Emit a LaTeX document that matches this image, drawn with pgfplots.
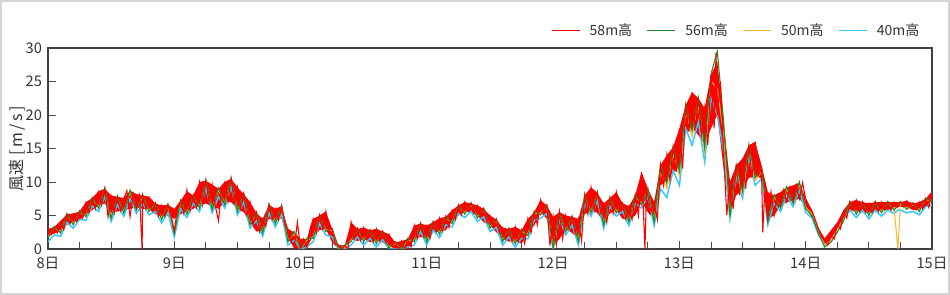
\documentclass[border=0pt]{standalone}
\usepackage{fontspec}
\usepackage{pgfplots}
\pgfplotsset{compat=1.18}
\usepgfplotslibrary{fillbetween}
\usepackage{pgfplotstable}
\newfontfamily\cjk{Noto Sans CJK JP}
\definecolor{s58}{RGB}{255,0,0}
\definecolor{s56}{RGB}{30,140,30}
\definecolor{s50}{RGB}{255,185,50}
\definecolor{s40}{RGB}{50,200,255}
\pgfplotstableread{
x lo hi
8.00 2.0 3.0
8.05 2.3 3.3
8.10 2.8 4.2
8.15 3.6 5.2
8.20 4.0 5.3
8.25 4.3 5.6
8.30 5.2 7.0
8.35 5.8 7.6
8.40 6.5 8.6
8.45 6.8 9.0
8.50 5.4 8.0
8.55 5.6 7.8
8.60 5.8 7.6
8.65 6.0 8.7
8.70 6.2 8.2
8.75 6.0 8.0
8.80 6.0 7.8
8.85 5.2 6.8
8.90 4.8 6.5
8.95 5.0 6.6
9.00 4.5 6.0
9.05 5.2 7.2
9.10 5.6 8.6
9.15 6.0 8.0
9.20 6.5 10.0
9.25 6.8 10.2
9.30 6.3 9.6
9.35 6.0 9.0
9.40 7.0 10.0
9.45 7.0 10.5
9.50 6.0 9.2
9.55 5.5 8.2
9.60 4.0 7.0
9.65 2.6 5.4
9.70 2.8 4.5
9.75 4.5 6.6
9.80 4.2 6.0
9.85 4.6 6.4
9.90 1.5 3.0
9.95 0.2 2.5
10.00 0.0 1.5
10.05 0.2 1.5
10.10 2.0 4.5
10.15 2.8 5.0
10.20 3.0 5.6
10.25 1.0 3.0
10.30 0.0 0.6
10.35 0.0 0.5
10.40 1.5 4.0
10.45 1.2 3.0
10.50 1.5 3.2
10.55 1.0 2.8
10.60 1.2 3.0
10.65 1.0 2.6
10.70 0.5 2.2
10.75 0.0 1.0
10.80 0.0 1.2
10.85 0.0 1.5
10.90 1.5 3.5
10.95 1.8 3.8
11.00 1.5 3.5
11.05 2.5 4.0
11.10 2.6 4.6
11.15 2.8 4.8
11.20 4.2 5.8
11.25 5.0 6.5
11.30 5.6 7.0
11.35 5.4 6.8
11.40 5.0 6.5
11.45 4.0 6.0
11.50 3.5 5.0
11.55 2.5 4.4
11.60 1.5 3.2
11.65 1.1 3.0
11.70 1.2 3.3
11.75 0.8 2.8
11.80 2.4 4.5
11.85 3.5 5.5
11.90 5.5 7.3
11.95 4.5 6.5
12.00 0.5 4.8
12.05 1.5 5.5
12.10 3.0 5.0
12.15 2.4 4.8
12.20 1.5 4.5
12.25 5.2 8.0
12.30 5.8 9.2
12.35 5.4 8.4
12.40 4.0 6.8
12.45 5.3 7.6
12.50 5.8 8.5
12.55 4.5 6.8
12.60 4.4 6.4
12.65 5.0 8.0
12.70 7.0 11.5
12.75 5.5 9.0
12.80 4.4 7.0
12.85 9.5 12.5
12.90 10.2 14.0
12.95 11.5 15.2
13.00 12.0 18.0
13.05 17.5 21.5
13.10 18.0 23.4
13.15 17.0 22.5
13.20 15.5 21.0
13.25 18.0 26.0
13.30 20.0 28.0
13.35 12.0 19.0
13.40 5.5 10.0
13.45 8.0 12.5
13.50 9.0 13.5
13.55 10.6 15.5
13.60 11.0 16.0
13.65 10.5 12.5
13.70 4.5 8.5
13.75 5.0 8.0
13.80 6.5 8.5
13.85 7.0 9.2
13.90 7.2 9.5
13.95 7.5 9.9
14.00 6.4 7.6
14.05 4.6 5.8
14.10 2.0 3.2
14.15 0.6 1.6
14.20 1.5 2.8
14.25 2.8 4.0
14.30 4.5 5.8
14.35 5.8 7.0
14.40 5.6 7.3
14.45 5.5 7.0
14.50 5.4 6.8
14.55 5.6 7.0
14.60 5.8 7.0
14.65 5.8 7.0
14.70 6.2 7.0
14.75 6.3 7.0
14.80 6.3 7.2
14.85 5.8 6.8
14.90 6.0 7.0
14.95 6.2 7.5
15.00 7.5 8.6
}\env
\pgfplotstableread{
x g o b
8.00 1.6 1.8 1.1
8.05 3.4 3.1 2.1
8.10 2.4 2.6 1.9
8.15 5.3 5.0 4.0
8.20 3.6 3.8 3.1
8.25 5.7 5.4 4.4
8.30 4.8 5.0 4.3
8.35 7.7 7.4 6.4
8.40 6.1 6.3 5.6
8.45 9.1 8.8 7.8
8.50 4.6 4.8 4.1
8.55 7.9 7.6 6.6
8.60 5.4 5.6 4.9
8.65 8.8 8.5 7.5
8.70 5.8 6.0 5.3
8.75 8.1 7.8 6.8
8.80 5.6 5.8 5.1
8.85 6.9 6.6 5.6
8.90 4.4 4.6 3.9
8.95 6.7 6.4 5.4
9.00 2.3 2.5 1.8
9.05 7.3 7.0 6.0
9.10 5.2 5.4 4.7
9.15 8.1 7.8 6.8
9.20 6.1 6.3 5.6
9.25 10.3 10.0 9.0
9.30 5.9 6.1 5.4
9.35 9.1 8.8 7.8
9.40 6.6 6.8 6.1
9.45 10.6 10.3 9.3
9.50 5.6 5.8 5.1
9.55 8.3 8.0 7.0
9.60 3.6 3.8 3.1
9.65 5.5 5.2 4.2
9.70 2.4 2.6 1.9
9.75 6.7 6.4 5.4
9.80 3.8 4.0 3.3
9.85 6.5 6.2 5.2
9.90 1.1 1.3 0.6
9.95 2.6 2.3 1.3
10.00 0.0 0.0 0.0
10.05 1.6 1.3 0.3
10.10 1.6 1.8 1.1
10.15 5.1 4.8 3.8
10.20 2.6 2.8 2.1
10.25 3.1 2.8 1.8
10.30 0.0 0.0 0.0
10.35 0.6 0.3 0.0
10.40 1.1 1.3 0.6
10.45 3.1 2.8 1.8
10.50 1.1 1.3 0.6
10.55 2.9 2.6 1.6
10.60 0.8 1.0 0.3
10.65 2.7 2.4 1.4
10.70 0.1 0.3 0.0
10.75 1.1 0.8 0.0
10.80 0.0 0.0 0.0
10.85 1.6 1.3 0.3
10.90 1.1 1.3 0.6
10.95 3.9 3.6 2.6
11.00 1.1 1.3 0.6
11.05 4.1 3.8 2.8
11.10 2.2 2.4 1.7
11.15 4.9 4.6 3.6
11.20 3.8 4.0 3.3
11.25 6.6 6.3 5.3
11.30 5.2 5.4 4.7
11.35 6.9 6.6 5.6
11.40 4.6 4.8 4.1
11.45 6.1 5.8 4.8
11.50 3.1 3.3 2.6
11.55 4.5 4.2 3.2
11.60 1.1 1.3 0.6
11.65 3.1 2.8 1.8
11.70 0.8 1.0 0.3
11.75 2.9 2.6 1.6
11.80 2.0 2.2 1.5
11.85 5.6 5.3 4.3
11.90 5.1 5.3 4.6
11.95 6.6 6.3 5.3
12.00 0.1 0.3 0.0
12.05 5.6 5.3 4.3
12.10 2.6 2.8 2.1
12.15 4.9 4.6 3.6
12.20 1.1 1.3 0.6
12.25 8.1 7.8 6.8
12.30 5.4 5.6 4.9
12.35 8.5 8.2 7.2
12.40 3.6 3.8 3.1
12.45 7.7 7.4 6.4
12.50 5.4 5.6 4.9
12.55 6.9 6.6 5.6
12.60 4.0 4.2 3.5
12.65 8.1 7.8 6.8
12.70 6.6 6.8 6.1
12.75 9.1 8.8 7.8
12.80 4.0 4.2 3.5
12.85 12.6 11.5 9.0
12.90 9.8 9.0 7.7
12.95 15.3 14.2 11.7
13.00 11.6 10.8 9.5
13.05 21.6 20.5 18.0
13.10 17.6 16.8 15.5
13.15 22.6 21.5 19.0
13.20 15.1 14.3 13.0
13.25 26.1 25.0 22.5
13.30 29.5 24.0 20.0
13.35 19.0 17.0 14.5
13.40 4.8 5.0 4.5
13.45 12.6 12.0 10.8
13.50 8.6 8.2 7.6
13.55 15.6 15.0 13.8
13.60 10.6 10.2 9.5
13.65 12.1 11.5 10.5
13.70 4.1 4.3 3.6
13.75 8.1 7.8 6.8
13.80 6.1 6.3 5.6
13.85 9.3 9.0 8.0
13.90 6.8 7.0 6.3
13.95 10.0 9.7 8.7
14.00 6.0 6.2 5.5
14.05 5.0 5.2 4.6
14.10 2.4 2.6 2.2
14.15 0.3 0.6 0.6
14.20 1.0 1.3 1.3
14.25 2.5 2.8 2.9
14.30 4.2 4.4 4.5
14.35 7.1 6.8 5.8
14.40 5.2 5.4 4.7
14.45 7.1 6.8 5.8
14.50 5.0 5.2 4.5
14.55 7.1 6.8 5.8
14.60 5.4 5.6 4.9
14.65 7.1 6.8 5.8
14.70 5.8 6.0 5.3
14.73 6.5 0.0 5.8
14.75 7.1 6.8 5.8
14.80 5.9 6.1 5.4
14.85 6.9 6.6 5.6
14.90 5.6 5.8 5.1
14.95 7.6 7.3 6.3
15.00 7.1 7.3 6.6
}\others
\begin{document}
\begin{tikzpicture}
\begin{axis}[
  at={(0pt,0pt)}, anchor=south west,
  scale only axis, width=663pt, height=150.75pt,
  xmin=8, xmax=15, ymin=0, ymax=30,
  xtick={8,9,10,11,12,13,14,15},
  xticklabels={8日,9日,10日,11日,12日,13日,14日,15日},
  minor x tick num=3,
  ytick={0,5,10,15,20,25,30},
  xtick pos=left, ytick pos=left,
  tick align=inside,
  major tick length=6pt, minor tick length=5pt,
  tick style={black!70, line width=0.6pt},
  axis line style={black!75, line width=0.9pt},
  /pgf/number format/assume math mode=true,
  ticklabel style={font=\cjk\fontsize{11}{12}\selectfont, text=black!80},
  xticklabel style={yshift=-2.5pt},
  yticklabel style={xshift=-1pt},
  ylabel={風速 [\,m\,/\,s\,]},
  ylabel style={at={(axis description cs:-0.035,0.5)}, anchor=center, font=\cjk\fontsize{12}{14}\selectfont, text=black!80},
  legend columns=4,
  legend image code/.code={\draw[#1, line width=0.9pt] (0pt,0pt) -- (21pt,0pt);},
  legend style={draw=none, fill=none, at={(axis description cs:0.989,1.04)}, anchor=south east,
    font=\cjk\fontsize{10.5}{12}\selectfont, text=black!80, inner sep=0pt,
    /tikz/every odd column/.append style={column sep=5pt},
    /tikz/every even column/.append style={column sep=9pt}},
]
\addlegendimage{s58}\addlegendentry{58m高}
\addlegendimage{s56}\addlegendentry{56m高}
\addlegendimage{s50}\addlegendentry{50m高}
\addlegendimage{s40}\addlegendentry{40m高}
\addplot[s40, line width=1.1pt, forget plot] table[x=x, y=b] {\others};
\addplot[s50, line width=0.8pt, forget plot] table[x=x, y=o] {\others};
\addplot[s56, line width=0.8pt, forget plot] table[x=x, y=g] {\others};
\addplot[draw=none, name path=rlo, forget plot] table[x=x, y=lo] {\env};
\addplot[draw=none, name path=rhi, forget plot] table[x=x, y=hi] {\env};
\addplot[s58, forget plot] fill between[of=rlo and rhi];
\addplot[s58, line width=0.8pt, forget plot] coordinates {
(8.000,3.0)(8.025,2.1)(8.050,3.2)(8.075,2.4)(8.100,4.0)(8.125,2.9)(8.150,5.1)(8.175,3.8)
(8.200,5.2)(8.225,4.1)(8.250,5.5)(8.275,4.6)(8.300,6.9)(8.325,5.4)(8.350,7.5)(8.375,6.0)
(8.400,8.5)(8.425,6.6)(8.450,9.0)(8.475,4.8)(8.500,7.9)(8.525,5.4)(8.550,7.7)(8.575,5.7)
(8.600,7.5)(8.625,8.7)(8.650,4.8)(8.675,8.2)(8.700,6.1)(8.725,8.0)(8.745,0.0)(8.750,7.9)
(8.775,6.0)(8.800,7.7)(8.825,5.6)(8.850,6.8)(8.875,4.9)(8.900,6.5)(8.925,4.9)(8.950,6.6)
(8.975,5.0)(9.000,2.7)(9.025,6.0)(9.050,7.1)(9.075,5.3)(9.100,8.8)(9.125,5.7)(9.150,8.0)
(9.175,6.2)(9.200,9.9)(9.225,6.6)(9.250,10.2)(9.275,7.0)(9.300,9.6)(9.325,6.4)(9.350,4.2)
(9.375,9.0)(9.400,10.0)(9.425,7.1)(9.450,10.5)(9.475,6.9)(9.500,9.2)(9.525,6.0)(9.550,8.2)
(9.575,5.0)(9.600,7.0)(9.625,3.6)(9.650,5.4)(9.675,2.6)(9.700,4.5)(9.725,3.4)(9.750,6.6)
(9.775,4.4)(9.800,6.0)(9.825,4.4)(9.850,6.4)(9.875,3.6)(9.900,3.0)(9.925,1.2)(9.950,0.2)
(9.975,4.0)(10.000,0.0)(10.025,1.5)(10.050,0.2)(10.075,3.0)(10.100,4.5)(10.125,2.4)(10.150,5.0)
(10.175,3.0)(10.200,5.6)(10.225,2.8)(10.250,3.0)(10.275,0.8)(10.300,0.6)(10.325,0.0)(10.350,0.5)
(10.375,0.0)(10.400,4.0)(10.425,1.6)(10.450,3.0)(10.475,1.3)(10.500,3.2)(10.525,1.6)(10.550,2.8)
(10.575,1.1)(10.600,3.0)(10.625,1.3)(10.650,2.6)(10.675,1.0)(10.700,2.2)(10.725,0.5)(10.750,1.0)
(10.775,0.0)(10.800,1.2)(10.825,0.0)(10.850,1.5)(10.875,0.3)(10.900,3.5)(10.925,1.6)(10.950,3.8)
(10.975,1.9)(11.000,3.5)(11.025,1.6)(11.050,4.0)(11.075,2.6)(11.100,4.6)(11.125,2.7)(11.150,4.8)
(11.175,3.2)(11.200,5.8)(11.225,4.4)(11.250,6.5)(11.275,5.1)(11.300,7.0)(11.325,5.7)(11.350,6.8)
(11.375,5.4)(11.400,6.5)(11.425,5.0)(11.450,6.0)(11.475,4.1)(11.500,5.0)(11.525,3.5)(11.550,4.4)
(11.575,2.5)(11.600,3.2)(11.625,1.5)(11.650,3.0)(11.675,1.1)(11.700,3.3)(11.725,1.2)(11.750,2.8)
(11.775,0.8)(11.800,4.5)(11.825,2.4)(11.850,5.5)(11.875,3.6)(11.900,7.3)(11.925,5.5)(11.950,6.5)
(11.975,0.5)(12.000,4.8)(12.025,0.6)(12.050,5.5)(12.075,1.5)(12.100,5.0)(12.125,3.0)(12.150,4.8)
(12.175,2.4)(12.200,4.5)(12.225,1.2)(12.250,8.0)(12.275,5.2)(12.300,9.2)(12.325,5.8)(12.350,8.4)
(12.375,5.4)(12.400,6.8)(12.425,4.0)(12.450,7.6)(12.475,5.3)(12.500,8.5)(12.525,5.8)(12.550,6.8)
(12.575,4.5)(12.600,6.4)(12.625,4.4)(12.650,8.0)(12.675,5.0)(12.700,11.5)(12.712,7.0)(12.727,0.0)
(12.740,9.0)(12.775,5.5)(12.800,7.0)(12.825,4.4)(12.850,12.5)(12.875,9.5)(12.900,14.0)(12.925,10.2)
(12.950,15.2)(12.975,11.5)(13.000,18.0)(13.025,12.0)(13.050,21.5)(13.075,17.5)(13.100,23.4)(13.125,18.0)
(13.150,22.5)(13.175,17.0)(13.200,21.0)(13.225,15.5)(13.250,26.0)(13.275,18.0)(13.290,29.3)(13.300,20.0)
(13.325,25.0)(13.350,14.0)(13.375,5.1)(13.400,10.0)(13.425,6.0)(13.450,12.5)(13.475,8.0)(13.500,13.5)
(13.525,9.0)(13.550,15.5)(13.575,10.6)(13.600,16.0)(13.625,11.0)(13.650,12.0)(13.660,2.5)(13.675,8.5)
(13.700,4.5)(13.725,8.5)(13.750,5.0)(13.775,8.0)(13.800,6.5)(13.825,8.8)(13.850,7.0)(13.875,9.2)
(13.900,7.2)(13.925,9.5)(13.950,7.5)(13.975,9.9)(14.000,7.4)(14.025,6.4)(14.050,5.6)(14.075,4.4)
(14.100,3.0)(14.125,1.8)(14.150,1.4)(14.175,0.6)(14.200,2.0)(14.225,1.5)(14.250,3.8)(14.275,3.0)
(14.300,5.6)(14.325,4.6)(14.350,7.0)(14.375,5.8)(14.400,7.3)(14.425,5.6)(14.450,7.0)(14.475,5.5)
(14.500,6.8)(14.525,5.4)(14.550,7.0)(14.575,5.6)(14.600,7.0)(14.625,5.8)(14.650,7.0)(14.675,5.8)
(14.700,7.0)(14.725,6.2)(14.750,7.0)(14.775,6.3)(14.800,7.2)(14.825,6.3)(14.850,6.8)(14.875,5.8)
(14.900,7.0)(14.925,6.0)(14.950,7.5)(14.975,6.2)(15.000,8.6)
};
\coordinate (A) at (rel axis cs:0,0);
\end{axis}
\pgfresetboundingbox
\path[use as bounding box] ([shift={(-36pt,-34.5pt)}]A) rectangle ([shift={(676.5pt,186.75pt)}]A);
\draw[black!17, line width=1.5pt] ([shift={(-35.25pt,-33.75pt)}]A) rectangle ([shift={(675.75pt,186pt)}]A);
\end{tikzpicture}
\end{document}
